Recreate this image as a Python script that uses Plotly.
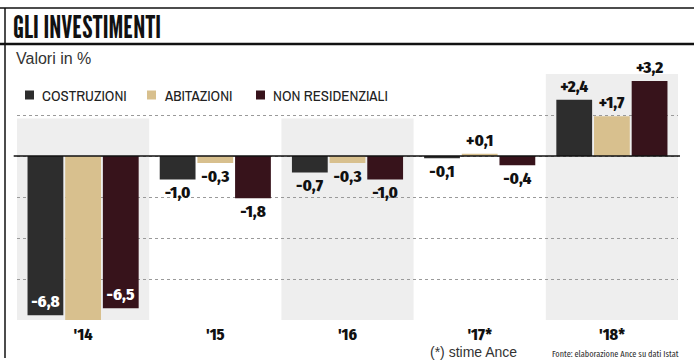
import plotly.graph_objects as go

years = ["'14", "'15", "'16", "'17*", "'18*"]
costruzioni = [-6.8, -1.0, -0.7, -0.1, 2.4]
abitazioni = [-7.1, -0.3, -0.3, 0.1, 1.7]
non_residenziali = [-6.5, -1.8, -1.0, -0.4, 3.2]
series_names = ["COSTRUZIONI", "ABITAZIONI", "NON RESIDENZIALI"]
series_colors = ["#2d2d2d", "#d8c08e", "#37131b"]
inside_text_colors = ["white", "#111111", "white"]
legend_text_x = [40, 162, 271]  # px where legend labels start

BOLDC = "Fira Sans Condensed, Archivo Narrow, DejaVu Sans Condensed, sans-serif"
TITLEF = "League Gothic, Fira Sans Extra Condensed, DejaVu Sans Condensed, sans-serif"
NARROW = "Archivo Narrow, Fira Sans Condensed, DejaVu Sans Condensed, sans-serif"
XCOND = "Fira Sans Extra Condensed, Archivo Narrow, DejaVu Sans Condensed, sans-serif"
PLAIN = "Liberation Sans, Arial, sans-serif"

def fmt(v):
    return f"{v:+.1f}".replace(".", ",")

PH = 246.0  # plot height in px
PW = 661.0

def py(px):
    return (320 - px) / PH

def pxx(px):
    return (px - 17) / PW

fig = go.Figure()
for name, vals, col, intext in zip(series_names, [costruzioni, abitazioni, non_residenziali],
                                   series_colors, inside_text_colors):
    pos = ["inside" if abs(v) > 5 else "outside" for v in vals]
    fig.add_trace(go.Bar(
        name=name, x=years, y=vals,
        marker=dict(color=col, line=dict(width=0)),
        text=[fmt(v) for v in vals],
        textposition=pos,
        insidetextanchor="end",
        insidetextfont=dict(family=BOLDC, size=17, color=intext, weight=800),
        outsidetextfont=dict(family=BOLDC, size=17, color="#111111", weight=800),
        textangle=0,
        constraintext="none",
        cliponaxis=False,
        hoverinfo="skip",
        showlegend=False,
    ))

shapes = []
for i in (0, 2, 4):
    shapes.append(dict(type="rect", xref="x", yref="y", x0=i - 0.5, x1=i + 0.5,
                       y0=1.6 if i < 4 else 3.6, y1=-7.9, fillcolor="#eeeeee",
                       line=dict(width=0), layer="below"))
shapes.append(dict(type="line", xref="paper", yref="y", x0=-0.005, x1=1.003, y0=0, y1=0,
                   line=dict(color="#111111", width=1.5)))
shapes.append(dict(type="line", xref="paper", yref="paper", x0=-0.03, x1=1.03,
                   y0=py(8), y1=py(8), line=dict(color="#111", width=1.5)))
shapes.append(dict(type="line", xref="paper", yref="paper", x0=-0.03, x1=1.03,
                   y0=py(44), y1=py(44), line=dict(color="#111", width=2.5)))
shapes.append(dict(type="line", xref="paper", yref="paper", x0=pxx(5), x1=pxx(5),
                   y0=py(8), y1=py(358), line=dict(color="#111", width=1.5)))

annotations = [
    dict(text="GLI INVESTIMENTI", xref="paper", yref="paper", x=pxx(11), y=py(26),
         xanchor="left", yanchor="middle", showarrow=False,
         font=dict(family=TITLEF, size=30.5, color="#111")),
    dict(text="Valori in %", xref="paper", yref="paper", x=pxx(14), y=py(58),
         xanchor="left", yanchor="middle", showarrow=False,
         font=dict(family=PLAIN, size=16, color="#333")),
    dict(text="(*) stime Ance", xref="paper", yref="paper", x=pxx(473), y=py(352),
         xanchor="center", yanchor="middle", showarrow=False,
         font=dict(family=PLAIN, size=14, color="#333")),
    dict(text="Fonte: elaborazione Ance su dati Istat", xref="paper", yref="paper",
         x=pxx(681), y=py(354),
         xanchor="right", yanchor="middle", showarrow=False,
         font=dict(family=XCOND, size=9, color="#333")),
]

# legend: square swatch + label for each series
for name, col, tx in zip(series_names, series_colors, legend_text_x):
    shapes.append(dict(type="rect", xref="paper", yref="paper",
                       x0=pxx(tx - 15), x1=pxx(tx - 6), y0=py(99.5), y1=py(90.5),
                       fillcolor=col, line=dict(width=0)))
    annotations.append(dict(text=name, xref="paper", yref="paper", x=pxx(tx), y=py(95),
                            xanchor="left", yanchor="middle", showarrow=False,
                            font=dict(family=NARROW, size=15, color="#222")))

fig.update_layout(
    width=694, height=360,
    margin=dict(l=17, r=16, t=74, b=40),
    paper_bgcolor="white", plot_bgcolor="white",
    barmode="group", bargap=0.145, bargroupgap=0.05,
    showlegend=False,
    xaxis=dict(showgrid=False, showline=False, ticks="", ticklabelstandoff=3,
               tickfont=dict(family=BOLDC, size=16, color="#111", weight=800)),
    yaxis=dict(range=[-7.0, 3.5], tick0=0, dtick=1.75, showticklabels=False,
               showgrid=True, gridcolor="#9a9a9a", griddash="dot", gridwidth=1,
               zeroline=False, showline=False),
    shapes=shapes, annotations=annotations,
    font=dict(family=BOLDC),
)

fig.write_html("out.html")
